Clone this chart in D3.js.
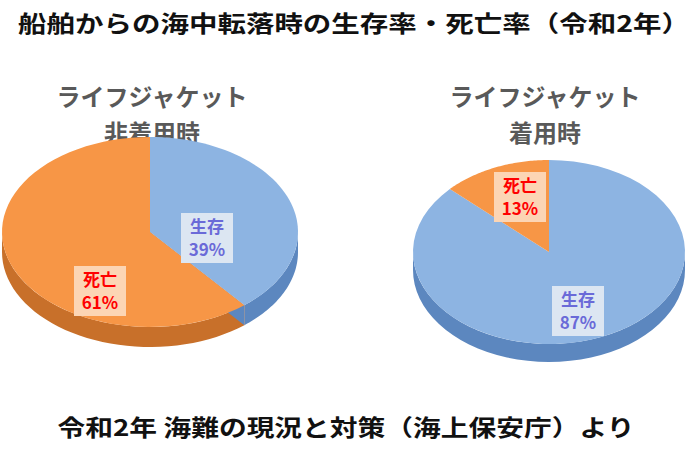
<!DOCTYPE html>
<html><head><meta charset="utf-8">
<script src="https://cdn.jsdelivr.net/npm/d3@7"></script>
<style>body{margin:0;background:#fff}text{font-family:"Noto Sans CJK JP",sans-serif;font-weight:bold}</style>
</head><body><svg id="c" width="695" height="463"></svg>
<script>
const categories = ["生存","死亡"];
const withoutJacket = [39, 61];
const withJacket = [87, 13];
const pieTitles = [["ライフジャケット","非着用時"],["ライフジャケット","着用時"]];
const title = "船舶からの海中転落時の生存率・死亡率（令和2年）";
const source = "令和2年 海難の現況と対策（海上保安庁）より";

const svg = d3.select("#c");
const topCol = ["#8db4e2","#f79646"], sideCol = ["#5c87bf","#c8702a"];
const boxFill = ["#dce6f2","#fcd5b4"], txtCol = ["#6a6ad8","#ff0000"];

svg.append("text").attr("x",354).attr("y",32).attr("text-anchor","middle").attr("font-size",23).attr("textLength",672).attr("lengthAdjust","spacingAndGlyphs").attr("fill","#111").text(title);
svg.append("text").attr("x",346).attr("y",436).attr("text-anchor","middle").attr("font-size",23).attr("textLength",577).attr("lengthAdjust","spacingAndGlyphs").attr("fill","#111").text(source);

const pies = [
 {data:withoutJacket, cx:150, cy:232, rx:148, ry:95, d:20, tx:152, lab:[[207,237],[100,290]]},
 {data:withJacket, cx:549, cy:252, rx:136, ry:92, d:18, tx:545, lab:[[578,310],[520,196]]}
];
const pieGen = d3.pie().sort(null);
pies.forEach((p,pi)=>{
  pieTitles[pi].forEach((t,i)=>svg.append("text").attr("x",p.tx).attr("y",106+i*36).attr("text-anchor","middle").attr("font-size",24).attr("fill","#595959").text(t));
  const arcs = pieGen(p.data);
  const pt=(a,dy=0)=>[p.cx+p.rx*Math.sin(a), p.cy-p.ry*Math.cos(a)+dy];
  const g = svg.append("g");
  arcs.forEach((a,i)=>{
    const s=Math.max(a.startAngle,Math.PI/2), e=Math.min(a.endAngle,3*Math.PI/2);
    if(e>s){
      const top=d3.range(0,41).map(k=>pt(s+(e-s)*k/40));
      const bot=top.map(q=>[q[0],q[1]+p.d]).reverse();
      g.append("path").attr("d","M"+top.concat(bot).join("L")+"Z").attr("fill",sideCol[i]);
    }
  });
  if(pi===0){const ang=arcs[0].endAngle,q=pt(ang);
    g.append("path").attr("d",`M${p.cx},${p.cy}L${q}L${q[0]},${q[1]+p.d}L${p.cx},${p.cy+p.d}Z`).attr("fill",sideCol[0]);}
  arcs.forEach((a,i)=>{
    const pts=d3.range(0,61).map(k=>pt(a.startAngle+(a.endAngle-a.startAngle)*k/60));
    g.append("path").attr("d",`M${p.cx},${p.cy}L`+pts.join("L")+"Z").attr("fill",topCol[i]);
  });
  arcs.forEach((a,i)=>{
    const [lx,ly]=p.lab[i];
    g.append("rect").attr("x",lx-26).attr("y",ly-24).attr("width",52).attr("height",50).attr("fill",boxFill[i]);
    g.append("text").attr("x",lx).attr("y",ly-4).attr("text-anchor","middle").attr("font-size",17).attr("fill",txtCol[i]).text(categories[i]);
    g.append("text").attr("x",lx).attr("y",ly+19).attr("text-anchor","middle").attr("font-size",17).attr("fill",txtCol[i]).text(p.data[i]+"%");
  });
});
</script></body></html>
